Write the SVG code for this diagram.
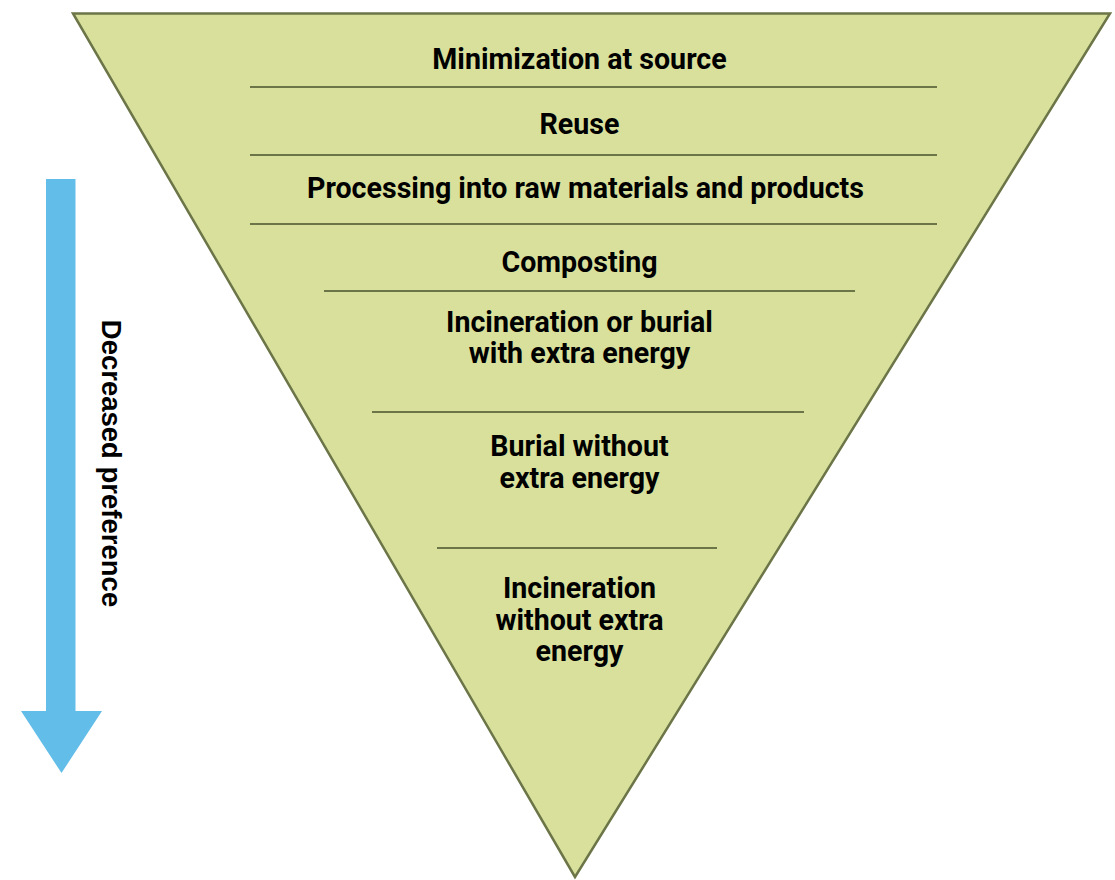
<svg xmlns="http://www.w3.org/2000/svg" width="1115" height="880" viewBox="0 0 1115 880">
  <style>
    .tier { stroke: #6b7547; stroke-width: 2.2; fill: none; }
    .label { font-family: Roboto, "Liberation Sans", sans-serif; font-weight: 700; font-size: 28.6px; fill: #000; text-anchor: middle; }
    .side { font-family: "Liberation Sans", Arial, sans-serif; font-weight: 700; font-size: 27.5px; fill: #000; text-anchor: middle; }
  </style>
  <rect width="1115" height="880" fill="#ffffff"/>

  <!-- inverted pyramid -->
  <g id="pyramid">
    <polygon points="73,13.5 1110,13.5 575,877" fill="#d8e09c" stroke="#6b7547" stroke-width="2.5" stroke-linejoin="miter"/>
  </g>

  <!-- tier dividers -->
  <g id="dividers">
    <line class="tier" x1="250" y1="87" x2="937" y2="87"/>
    <line class="tier" x1="250" y1="155" x2="937" y2="155"/>
    <line class="tier" x1="250" y1="224" x2="937" y2="224"/>
    <line class="tier" x1="324" y1="291" x2="855" y2="291"/>
    <line class="tier" x1="372" y1="412" x2="804" y2="412"/>
    <line class="tier" x1="437" y1="548" x2="717" y2="548"/>
  </g>

  <g id="tier-minimization"><text class="label" x="579.5" y="69">Minimization at source</text></g>
  <g id="tier-reuse"><text class="label" x="579.5" y="134">Reuse</text></g>
  <g id="tier-processing"><text class="label" x="585.5" y="198">Processing into raw materials and products</text></g>
  <g id="tier-composting"><text class="label" x="579.5" y="272">Composting</text></g>
  <g id="tier-incineration-energy">
    <text class="label" x="579.5" y="332">Incineration or burial</text>
    <text class="label" x="579.5" y="363">with extra energy</text>
  </g>
  <g id="tier-burial">
    <text class="label" x="579.5" y="456">Burial without</text>
    <text class="label" x="579.5" y="488">extra energy</text>
  </g>
  <g id="tier-incineration">
    <text class="label" x="579.5" y="598">Incineration</text>
    <text class="label" x="579.5" y="630">without extra</text>
    <text class="label" x="579.5" y="661">energy</text>
  </g>

  <!-- preference arrow -->
  <g id="preference-arrow">
    <polygon points="46,179 75.5,179 75.5,711 102,711 61.5,773 21,711 46,711" fill="#63bde9"/>
    <text class="side" transform="translate(101.5,463.5) rotate(90)">Decreased preference</text>
  </g>
</svg>
